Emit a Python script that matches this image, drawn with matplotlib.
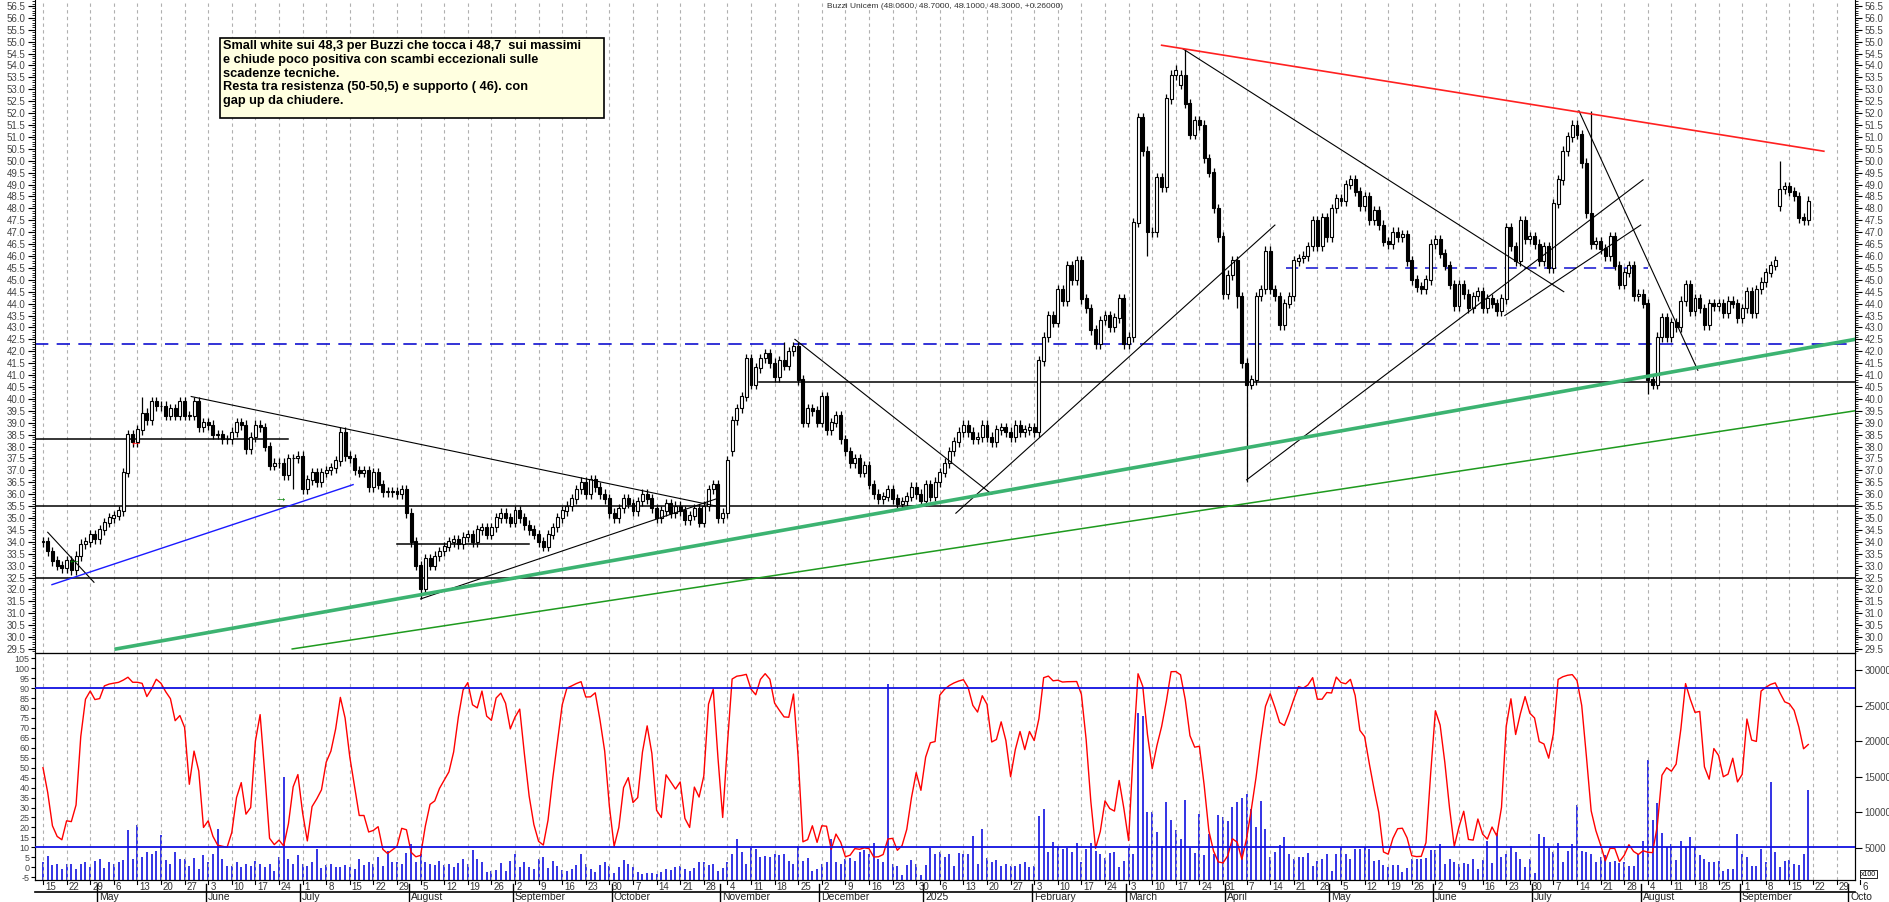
import numpy as np
import pandas as pd
import matplotlib
matplotlib.use("Agg")
import matplotlib.pyplot as plt
from matplotlib.patches import Rectangle

plt.rcParams['font.family'] = ['Liberation Sans', 'DejaVu Sans']

# ---------------- data (weekly rows of 5 daily closes) ----------------
closes_weeks = [
    [34.0, 33.6, 33.2, 33.0, 32.9], [33.2, 32.8, 33.4, 33.9, 34.0], [34.3, 34.1, 34.5, 34.8, 35.0],
    [35.1, 35.3, 36.9, 38.5, 38.2], [38.7, 39.4, 39.1, 39.9, 39.7], [39.7, 39.3, 39.6, 39.3, 39.9],
    [39.3, 39.3, 39.9, 38.8, 39.0], [38.9, 38.5, 38.5, 38.3, 38.3], [38.6, 39.0, 38.9, 37.9, 38.4],
    [38.9, 38.8, 38.0, 37.2, 37.3], [37.3, 36.8, 37.5, 37.5, 37.6], [36.2, 36.6, 36.9, 36.5, 36.9],
    [37.0, 37.1, 37.4, 38.6, 37.6], [37.5, 37.0, 36.9, 37.0, 36.3], [36.9, 36.4, 36.1, 36.1, 36.1],
    [36.0, 36.2, 35.2, 34.0, 33.0], [32.0, 33.3, 33.0, 33.4, 33.6], [33.8, 34.0, 34.1, 33.9, 34.2],
    [34.3, 34.0, 34.5, 34.6, 34.3], [34.6, 35.0, 35.2, 35.0, 34.8], [35.3, 35.0, 34.7, 34.5, 34.3],
    [34.0, 33.8, 34.3, 34.6, 35.0], [35.3, 35.5, 35.8, 36.2, 36.5], [36.0, 36.6, 36.3, 36.0, 35.8],
    [35.2, 35.0, 35.4, 35.8, 35.6], [35.3, 35.7, 36.0, 35.8, 35.4], [35.0, 35.3, 35.6, 35.2, 35.5],
    [35.3, 34.9, 35.1, 35.4, 34.8], [35.5, 36.2, 36.4, 35.0, 35.2], [37.4, 39.1, 39.6, 40.1, 41.7],
    [40.6, 41.3, 41.7, 41.9, 41.5], [40.9, 41.6, 41.4, 42.0, 42.2], [40.8, 39.0, 39.6, 39.5, 39.0],
    [40.1, 38.7, 39.0, 39.3, 38.3], [37.8, 37.3, 37.5, 36.9, 37.2], [36.4, 36.0, 35.8, 35.9, 36.2],
    [35.8, 35.6, 35.7, 35.9, 36.3], [36.0, 35.7, 36.4, 35.9, 36.5], [36.9, 37.3, 37.8, 38.2, 38.6],
    [38.9, 38.6, 38.3, 38.4, 38.9], [38.4, 38.2, 38.7, 38.8, 38.6], [38.4, 38.9, 38.6, 38.7, 38.8],
    [38.6, 41.6, 42.6, 43.5, 43.2], [44.6, 44.1, 45.6, 45.0, 45.8], [44.2, 43.8, 42.9, 42.3, 43.3],
    [43.5, 43.0, 43.4, 44.2, 42.3], [42.6, 47.4, 51.8, 50.4, 47.0], [47.0, 49.3, 48.9, 52.6, 53.6],
    [53.8, 53.6, 52.4, 51.1, 51.7], [51.5, 50.1, 49.5, 48.0, 46.8], [44.4, 45.2, 45.8, 44.3, 41.5],
    [40.6, 40.8, 44.3, 44.6, 46.2], [44.6, 44.3, 43.1, 44.0, 44.3], [45.8, 45.9, 46.0, 46.4, 47.5],
    [46.4, 47.6, 46.8, 48.0, 48.4], [48.3, 49.0, 49.2, 48.7, 48.1], [48.5, 47.5, 47.9, 47.3, 46.6],
    [46.5, 47.0, 46.8, 46.9, 45.8], [45.0, 44.7, 44.6, 45.0, 46.5], [46.7, 46.1, 45.6, 44.8, 43.9],
    [44.8, 44.4, 43.8, 44.3, 44.5], [43.8, 44.2, 44.0, 43.7, 44.2], [47.2, 46.4, 45.8, 47.5, 46.7],
    [46.8, 46.5, 45.8, 46.4, 45.5], [48.2, 49.2, 50.4, 51.0, 51.5], [51.1, 49.9, 47.8, 46.5, 46.6],
    [46.3, 46.0, 46.8, 45.6, 44.8], [45.3, 45.6, 44.3, 44.4, 44.0], [40.8, 40.6, 42.6, 43.4, 42.6],
    [43.2, 43.0, 44.1, 44.8, 43.7], [44.2, 43.8, 43.1, 44.0, 43.9], [44.0, 43.6, 44.1, 44.0, 43.4],
    [43.8, 44.5, 43.6, 44.6, 44.9], [45.3, 45.6, 45.8, 48.8, 48.9], [48.7, 48.5, 47.6, 47.5, 48.3],
]
volume_weeks = [
    [3000, 3900, 2600, 2700, 2000], [2700, 2700, 2000, 2700, 3000], [2400, 3200, 3500, 2200, 3000],
    [2700, 3000, 3300, 7600, 3500], [8300, 3800, 4500, 4200, 4600], [6800, 3300, 2700, 4400, 3400],
    [3400, 2500, 3600, 2100, 4000], [3000, 4200, 7700, 3400, 2500], [2500, 3000, 2400, 2700, 2500],
    [3200, 2700, 2400, 2800, 1800], [3700, 15000, 3500, 2800, 4000], [2800, 2500, 3000, 4800, 2200],
    [2600, 2800, 2400, 2400, 2600], [2400, 2000, 3500, 2600, 3000], [2800, 3800, 2500, 4600, 3000],
    [3100, 2700, 4300, 5500, 3100], [4200, 3100, 2700, 2600, 3200], [2600, 2800, 2400, 2900, 3500],
    [2800, 4700, 3500, 3000, 1600], [1800, 1900, 2900, 1800, 3200], [4200, 2300, 3000, 2300, 2100],
    [3400, 3700, 2200, 3200, 2500], [1900, 1800, 2100, 2600, 4200], [2800, 2000, 1700, 2600, 3100],
    [2500, 1500, 2300, 3300, 2700], [2400, 1600, 1400, 1500, 1500], [1400, 1700, 2000, 1900, 2300],
    [2500, 2100, 1800, 2200, 3000], [3000, 2600, 2800, 1800, 2200], [3000, 4100, 6300, 4500, 2800],
    [5000, 4800, 3800, 3900, 3800], [4200, 4000, 4100, 3200, 2700], [5300, 3200, 3600, 1800, 2100],
    [2800, 3000, 6300, 3000, 2800], [3500, 3600, 3200, 4500, 4700], [4200, 5700, 3400, 3100, 28000],
    [2700, 2500, 1200, 2600, 3300], [2800, 1200, 2600, 5000, 4200], [4400, 3700, 4100, 2500, 4300],
    [4100, 4200, 6700, 2700, 7700], [3600, 3000, 3300, 2500, 2800], [2500, 2500, 2700, 3100, 2400],
    [2500, 9500, 10500, 4500, 5800], [5300, 4800, 5000, 4500, 5700], [3000, 4800, 5700, 4600, 4200],
    [3600, 4300, 4500, 2400, 3200], [5000, 4100, 24000, 23500, 10000], [10000, 7200, 5300, 11500, 9000],
    [7500, 6300, 11800, 5000, 4300], [9800, 4000, 7000, 4200, 9700], [9400, 8800, 10700, 11500, 12000],
    [12600, 10500, 8000, 11600, 7700], [3800, 4400, 5400, 6500, 4200], [3500, 3700, 3700, 4300, 2500],
    [3200, 3400, 4100, 1800, 4200], [5100, 4200, 3400, 4900, 4900], [5200, 4900, 3200, 3300, 2600],
    [2400, 2600, 2600, 1700, 2200], [3500, 3500, 3400, 3600, 4700], [4700, 5500, 2800, 3500, 3100],
    [2800, 2900, 2700, 3500, 2000], [3300, 6000, 2900, 7100, 3700], [4200, 5300, 4500, 3500, 2400],
    [3500, 1500, 7000, 6600, 5000], [4500, 5700, 3000, 4600, 5500], [11000, 4600, 4400, 4100, 3100],
    [3700, 4000, 3000, 3200, 2900], [3100, 2500, 2500, 4200, 6000], [17300, 9000, 11300, 7100, 5100],
    [5500, 3300, 6000, 5200, 6500], [5200, 4000, 3400, 3100, 3100], [3200, 1800, 2000, 2100, 7000],
    [4200, 3800, 2500, 2500, 4800], [3000, 14300, 4400, 2300, 3200], [3300, 2800, 2600, 4200, 13200],
]
special_low = {'2024-08-05': 31.6, '2025-04-07': 36.5, '2025-08-04': 40.2, '2025-03-07': 46.0,
               '2024-06-27': 36.2, '2025-04-03': 43.8}
special_high = {'2025-03-19': 54.7, '2025-07-17': 52.1, '2024-05-14': 40.1, '2025-09-11': 50.0,
                '2024-11-20': 42.4}
special_open = {'2025-09-11': 48.1, '2024-11-05': 37.8, '2025-03-18': 53.2}

title = "Buzzi Unicem (48.0600, 48.7000, 48.1000, 48.3000, +0.26000)"
note = ("Small white sui 48,3 per Buzzi che tocca i 48,7  sui massimi\n"
        "e chiude poco positiva con scambi eccezionali sulle\n"
        "scadenze tecniche.\n"
        "Resta tra resistenza (50-50,5) e supporto ( 46). con\n"
        "gap up da chiudere.")

# ---------------- build ----------------
dates = pd.bdate_range('2024-04-15', '2025-09-19')
close = np.array([v for w in closes_weeks for v in w])
vol = np.array([v for w in volume_weeks for v in w])
n = len(close)
dates = dates[:n]
opn = np.r_[close[0], close[:-1]]
key = [d.strftime('%Y-%m-%d') for d in dates]
for i, k in enumerate(key):
    if k in special_open:
        opn[i] = special_open[k]
high = np.maximum(opn, close) + 0.2
low = np.minimum(opn, close) - 0.2
for i, k in enumerate(key):
    if k in special_low:
        low[i] = special_low[k]
    if k in special_high:
        high[i] = special_high[k]
idx = np.arange(n)

# stochastic oscillator
per = 10
kraw = np.full(n, np.nan)
for i in range(n):
    j0 = max(0, i - per + 1)
    hh, ll = high[j0:i + 1].max(), low[j0:i + 1].min()
    kraw[i] = 100 * (close[i] - ll) / (hh - ll) if hh > ll else 50
stoch = pd.Series(kraw).rolling(2, min_periods=1).mean().values

# ---------------- figure ----------------
W, H = 1890, 902
fig = plt.figure(figsize=(W / 100, H / 100), dpi=100)
L, R = 35, 1855
top_p, bot_p, bot_l = 0, 653, 880
ax = fig.add_axes([L / W, 1 - bot_p / H, (R - L) / W, (bot_p - top_p) / H])
ax2 = fig.add_axes([L / W, 1 - bot_l / H, (R - L) / W, (bot_l - bot_p) / H])
axv = ax2.twinx()

px_per_day = 4.72
x0 = -(L - 27) / px_per_day
x1 = x0 + (R - L) / px_per_day
for a in (ax, ax2, axv):
    a.set_xlim(x0, x1)

# grid: mondays
mondays = [i for i, d in enumerate(dates) if d.weekday() == 0]
extra_mondays = pd.date_range('2025-09-22', '2025-10-06', freq='W-MON')
mon_idx = mondays + [n + 5 * k for k in range(len(extra_mondays))]
mon_lab = [dates[i].day for i in mondays] + [d.day for d in extra_mondays]
for m in mon_idx:
    for a in (ax, ax2):
        a.axvline(m, color='#b0b0b0', lw=0.8, ls=(0, (3, 3)), zorder=0)

# price axis (labels both sides)
ax.set_ylim(29.33, 56.75)
ax.tick_params(axis='y', which='both', left=True, right=True, labelleft=True, labelright=True)
ax.set_yticks(np.arange(29.5, 56.51, 0.5))
ax.set_yticks(np.arange(29.4, 56.75, 0.1), minor=True)
ax.set_yticklabels([f"{v:.1f}" for v in np.arange(29.5, 56.51, 0.5)], fontsize=7, color='#444')
ax.tick_params(axis='y', which='major', length=5, pad=2)
ax.tick_params(axis='y', which='minor', length=2.5)
ax.set_xticks([])
ax.spines['top'].set_visible(False)

# candles
up = close >= opn
bw = 0.62
ax.vlines(idx, low, high, color='black', lw=0.9, zorder=3)
ax.bar(idx[up], (close - opn)[up] + 0.02, bottom=opn[up], width=bw, color='white', edgecolor='black', lw=0.8, zorder=4)
ax.bar(idx[~up], (opn - close)[~up] + 0.02, bottom=close[~up], width=bw, color='black', edgecolor='black', lw=0.8, zorder=4)

# horizontal levels
for y in (35.5, 32.5):
    ax.axhline(y, color='black', lw=1.1, zorder=2)
ax.axhline(42.3, color='#1010d0', lw=1.2, ls=(0, (8, 5)), zorder=2)
ax.plot([151.7, x1], [40.7, 40.7], color='black', lw=1.1)
ax.plot([x0, 52], [38.3, 38.3], color='black', lw=1.1)
ax.plot([75, 103], [33.9, 33.9], color='black', lw=1.1)
ax.plot([263.3, 340], [45.5, 45.5], color='#1010d0', lw=1.1, ls=(0, (8, 5)))

# trend lines
blk = [((31.4, 40.1), (142.6, 35.5)), ((1.0, 34.4), (10.8, 32.3)), ((80, 31.6), (142.6, 35.8)),
       ((159.3, 42.5), (201, 36.0)), ((193.4, 35.2), (261, 47.3)), ((241.5, 54.7), (322.2, 44.5)),
       ((255, 36.6), (339, 49.2)), ((309.7, 43.5), (338.5, 47.3)), ((325.4, 52.1), (350.6, 41.2))]
for (a, b) in blk:
    ax.plot([a[0], b[0]], [a[1], b[1]], color='black', lw=0.8, zorder=5)
ax.plot([1.9, 65.7], [32.2, 36.4], color='#1a1aff', lw=1.0, zorder=5)
ax.plot([237, 377.3], [54.85, 50.4], color='#ff2020', lw=1.2, zorder=5)
ax.plot([15.5, x1], [29.5, 42.5], color='#3cb371', lw=2.6, zorder=5)
ax.plot([52.8, x1], [29.5, 39.5], color='#1e9a1e', lw=1.1, zorder=5)

ax.text(19.6, 38.12, '←', color='red', fontsize=9, fontweight='bold', ha='center', va='center', zorder=6)
ax.text(50.4, 35.75, '→', color='green', fontsize=9, fontweight='bold', ha='center', va='center', zorder=6)
ax.text(6.5, 33.15, '←', color='green', fontsize=9, fontweight='bold', ha='center', va='center', zorder=6)

fig.text(0.5, 1 - 7 / H, title, ha='center', va='center', fontsize=6, color='#333')
fig.add_artist(Rectangle((220 / W, 1 - 118 / H), 384 / W, 80 / H, transform=fig.transFigure,
                         facecolor='#ffffe0', edgecolor='black', lw=1.2, zorder=8))
fig.text(223 / W, 1 - 40 / H, note, ha='left', va='top', fontsize=9.2, fontweight='bold', color='black',
         linespacing=1.2, zorder=9)

# lower panel
ax2.set_ylim(-6.4, 107.6)
ax2.set_yticks(np.arange(-5, 106, 5))
ax2.set_yticklabels([str(v) for v in range(-5, 106, 5)], fontsize=6.5, color='#444')
ax2.tick_params(axis='y', length=3, pad=1)
ax2.plot(idx, stoch, color='red', lw=1.0, zorder=4)
ax2.axhline(90, color='#1010e0', lw=1.3, zorder=5)
ax2.axhline(10, color='#1010e0', lw=1.3, zorder=5)
axv.set_ylim(510, 32380)
axv.vlines(idx, 510, vol, color='#1010e0', lw=1.2, zorder=3)
axv.set_yticks(np.arange(5000, 30001, 5000))
axv.set_yticklabels([str(v) for v in range(5000, 30001, 5000)], fontsize=7, color='#444')
axv.tick_params(axis='y', length=5, pad=2)
ax2.set_zorder(axv.get_zorder() + 1)
ax2.patch.set_visible(False)
ax2.set_xticks([])
for a in (ax2, axv):
    a.spines['top'].set_color('black')
fig.text((R + 6) / W, 1 - (bot_l - 6) / H, 'x100', fontsize=5, ha='left', va='center',
         bbox=dict(boxstyle='square,pad=0.1', facecolor='white', edgecolor='black', lw=0.6))

# date axis rows below the lower panel (figure pixel coordinates)
def fx(i):
    return (L + (i - x0) * px_per_day) / W

def fy(y):
    return 1 - y / H

for m, lab in zip(mon_idx, mon_lab):
    fig.add_artist(plt.Line2D([fx(m), fx(m)], [fy(880), fy(884)], color='black', lw=0.8))
    fig.text(fx(m) + 2 / W, fy(887), str(lab), fontsize=7, color='#333', ha='left', va='center')
fig.add_artist(plt.Line2D([L / W, R / W], [fy(892), fy(892)], color='black', lw=1.2))

mstart = [i for i in range(1, n) if dates[i].month != dates[i - 1].month]
names = {1: 'January', 2: 'February', 3: 'March', 4: 'April', 5: 'May', 6: 'June', 7: 'July',
         8: 'August', 9: 'September', 10: 'October', 11: 'November', 12: 'December'}
for i in mstart + [n + 8]:
    if i < n:
        d = dates[i]
        lab = '2025' if d.month == 1 else names[d.month]
    else:
        lab = 'Octo'
    xx = fx(i - 0.5)
    fig.add_artist(plt.Line2D([xx, xx], [fy(884), fy(902)], color='black', lw=1.0))
    fig.text(xx + 2 / W, fy(897), lab, fontsize=7.5, color='#222', ha='left', va='center')

fig.savefig('out.png', dpi=100)
